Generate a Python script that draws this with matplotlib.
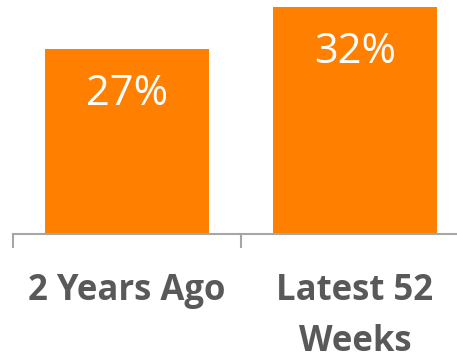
import matplotlib.pyplot as plt

periods = ["2 Years Ago", "Latest 52\nWeeks"]
shares = [27, 32]
value_labels = ["27%", "32%"]

fig = plt.figure(figsize=(4.57, 3.59), dpi=100)
# axes runs past the right edge so the baseline reaches the border
ax = fig.add_axes([13 / 457, 1 - 234 / 359, 456 / 457, 234 / 359])

x = range(len(periods))
bars = ax.bar(x, shares, width=0.715, color="#FF8000", zorder=2)

ax.set_xlim(-0.5, 1.5)
ax.set_ylim(5, 32.86)

for bar, lab in zip(bars, value_labels):
    ax.annotate(lab, (bar.get_x() + bar.get_width() / 2, bar.get_height()),
                xytext=(0, -45 * 0.72), textcoords="offset points",
                ha="center", va="center", color="white",
                fontsize=30, family="Open Sans")

for side in ["top", "right", "left"]:
    ax.spines[side].set_visible(False)
ax.spines["bottom"].set_color("#A6A6A6")
ax.spines["bottom"].set_linewidth(1.5)
ax.set_yticks([])

ax.set_xticks(list(x))
ax.set_xticklabels(periods, fontsize=25, fontweight="bold", color="#595959",
                   family="Open Sans", linespacing=1.55, va="top")
ax.tick_params(axis="x", which="major", length=0, pad=28)
ax.set_xticks([-0.5, 0.5, 1.5], minor=True)
ax.tick_params(axis="x", which="minor", length=10, width=1.5, color="#A6A6A6")

fig.savefig("out.png", dpi=100)
